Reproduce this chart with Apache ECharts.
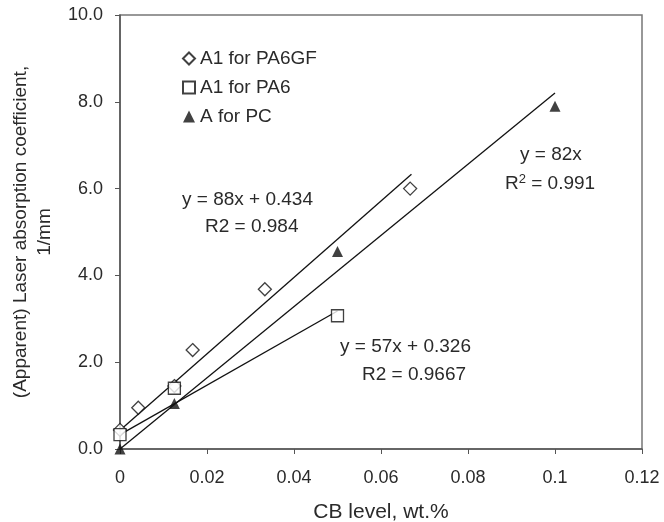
<!DOCTYPE html>
<html>
<head>
<meta charset="utf-8">
<script src="https://cdn.jsdelivr.net/npm/echarts@6/dist/echarts.min.js"></script>
<style>
  html, body { margin: 0; padding: 0; background: #fff; }
  #chart { width: 664px; height: 522px; }
</style>
</head>
<body>
<div id="chart"></div>
<script>
// measured points
const pa6gfPoints = [[0, 0.44], [0.0042, 0.95], [0.0125, 1.45], [0.0167, 2.28], [0.0333, 3.68], [0.0667, 6.0]];
const pa6Points = [[0, 0.33], [0.0125, 1.4], [0.05, 3.07]];
const pcPoints = [[0, 0], [0.0125, 1.05], [0.05, 4.55], [0.1, 7.9]];

// trendline ends
const pa6gfFit = [[0, 0.43], [0.067, 6.33]];
const pa6Fit = [[0, 0.33], [0.05, 3.18]];
const pcFit = [[0, 0], [0.1, 8.2]];

const xTicks = [0, 0.02, 0.04, 0.06, 0.08, 0.1, 0.12];
const yTicks = [0, 2, 4, 6, 8, 10];

const font = 'Liberation Sans, Arial, sans-serif';
const txt = '#2a2a2a';

const chart = echarts.init(document.getElementById('chart'));

const fitLine = (data) => ({
  type: 'line',
  data: data,
  symbol: 'none',
  silent: true,
  lineStyle: { color: '#111', width: 1.3 },
  z: 1
});

const note = (left, top, text) => ({
  type: 'text',
  left: left,
  top: top,
  style: { text: text, font: '19px ' + font, fill: txt }
});

chart.setOption({
  animation: false,
  backgroundColor: '#fff',
  grid: {
    left: 120, right: 22, top: 15, bottom: 73,
    outerBoundsMode: 'none',
    containLabel: false,
    show: true, borderColor: '#777', borderWidth: 1.5, backgroundColor: 'transparent'
  },
  legend: {
    data: ['A1 for PA6GF', 'A1 for PA6', 'A for PC'],
    orient: 'vertical',
    left: 177, top: 44,
    itemWidth: 12, itemHeight: 12, itemGap: 10,
    textStyle: { fontFamily: font, fontSize: 19, color: txt }
  },
  xAxis: {
    type: 'value',
    min: 0, max: 0.12, interval: 0.02,
    name: 'CB level, wt.%',
    nameLocation: 'middle',
    nameGap: 53,
    nameTextStyle: { fontFamily: font, fontSize: 21, color: txt },
    axisLine: { show: true, onZero: false, lineStyle: { color: '#555', width: 1.5 } },
    axisTick: { show: true, length: 5, lineStyle: { color: '#555' } },
    splitLine: { show: false },
    axisLabel: {
      fontFamily: font, fontSize: 18, color: txt, margin: 20,
      formatter: (v) => xTicks.includes(+v.toFixed(2)) ? String(+v.toFixed(2)) : ''
    }
  },
  yAxis: {
    type: 'value',
    min: 0, max: 10, interval: 2,
    name: '(Apparent) Laser absorption coefficient,\n1/mm',
    nameLocation: 'middle',
    nameGap: 48,
    nameTextStyle: { fontFamily: font, fontSize: 19, color: txt, lineHeight: 24 },
    axisLine: { show: true, lineStyle: { color: '#555', width: 1.5 } },
    axisTick: { show: true, length: 5, lineStyle: { color: '#555' } },
    splitLine: { show: false },
    axisLabel: {
      fontFamily: font, fontSize: 18, color: txt, margin: 17,
      formatter: (v) => yTicks.includes(v) ? v.toFixed(1) : ''
    }
  },
  series: [
    fitLine(pa6gfFit),
    fitLine(pa6Fit),
    fitLine(pcFit),
    {
      name: 'A1 for PA6GF',
      type: 'scatter',
      data: pa6gfPoints,
      symbol: 'diamond',
      symbolSize: 13,
      itemStyle: { color: '#fff', borderColor: '#111', borderWidth: 1.3 },
      z: 3
    },
    {
      name: 'A1 for PA6',
      type: 'scatter',
      data: pa6Points,
      symbol: 'rect',
      symbolSize: 12,
      itemStyle: { color: '#fff', borderColor: '#111', borderWidth: 1.3 },
      z: 3
    },
    {
      name: 'A for PC',
      type: 'scatter',
      data: pcPoints,
      symbol: 'triangle',
      symbolSize: 11,
      itemStyle: { color: '#111' },
      z: 4
    }
  ],
  graphic: [
    note(182, 190, 'y = 88x + 0.434'),
    note(205, 217, 'R2 = 0.984'),
    note(520, 145, 'y = 82x'),
    {
      type: 'text',
      left: 505, top: 173,
      style: {
        text: '{a|R}{s|2}{a| = 0.991}',
        rich: {
          a: { font: '19px ' + font, fill: txt },
          s: { font: '13px ' + font, fill: txt, verticalAlign: 'top', padding: [0, 0, 8, 0] }
        }
      }
    },
    note(340, 337, 'y = 57x + 0.326'),
    note(362, 365, 'R2 = 0.9667')
  ]
});
</script>
</body>
</html>
